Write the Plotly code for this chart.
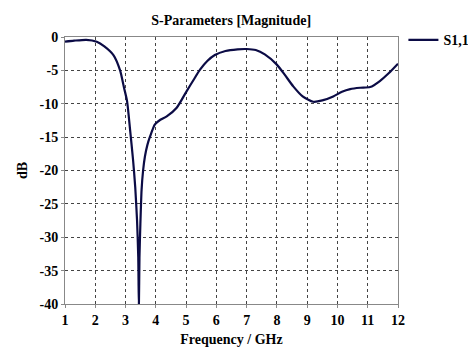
import plotly.graph_objects as go

freq = [1.0, 1.3, 1.7, 2.05, 2.3, 2.6, 2.82, 2.95, 3.05, 3.15, 3.25, 3.32, 3.38, 3.42, 3.44, 3.46, 3.49,
        3.53, 3.58, 3.64, 3.72, 3.81, 3.97, 4.15, 4.36, 4.69, 5.02, 5.25, 5.46, 5.7, 5.95, 6.3, 6.7,
        7.0, 7.3, 7.6, 7.99, 8.25, 8.54, 8.85, 9.2, 9.5, 9.86, 10.15, 10.42, 10.75, 11.08, 11.4, 11.7, 12.0]
s11 = [-0.7, -0.55, -0.42, -0.7, -1.4, -2.7, -5.0, -7.6, -9.6, -13.9, -18.5, -22.5, -27.5, -33.0, -40.5,
       -33.0, -28.0, -22.9, -20.0, -17.9, -16.2, -14.9, -13.1, -12.4, -11.9, -10.6, -8.1, -6.4, -4.9,
       -3.6, -2.7, -2.1, -1.85, -1.8, -1.95, -2.6, -4.1, -5.6, -7.4, -8.9, -9.7, -9.5, -8.9, -8.2, -7.8,
       -7.6, -7.5, -6.6, -5.4, -4.0]
x_ticks = [1, 2, 3, 4, 5, 6, 7, 8, 9, 10, 11, 12]
y_ticks = [0, -5, -10, -15, -20, -25, -30, -35, -40]

font_family = "Times New Roman, Liberation Serif, DejaVu Serif, serif"

fig = go.Figure()
fig.add_trace(go.Scatter(x=freq, y=s11, mode="lines", name="<b>S1,1</b>",
                         line=dict(color="#0b0b45", width=2.2, shape="spline", smoothing=0.6)))

axis_common = dict(showgrid=True, gridcolor="#444444", griddash="dot", gridwidth=1,
                   showline=True, linecolor="#888888", linewidth=1, mirror=True,
                   ticks="outside", ticklen=3, tickcolor="#888888", zeroline=False,
                   automargin=False,
                   tickfont=dict(family=font_family, size=14, color="black"))

fig.update_layout(
    width=468, height=347,
    margin=dict(l=65, r=70, t=37, b=43),
    paper_bgcolor="white", plot_bgcolor="white",
    title=dict(text="<b>S-Parameters [Magnitude]</b>", x=0.494, xanchor="center", y=0.943, yanchor="middle",
               font=dict(family=font_family, size=14, color="black")),
    xaxis=dict(range=[1, 12], tickvals=x_ticks, ticktext=[f"<b>{v}</b>" for v in x_ticks],
               title=dict(text="<b>Frequency / GHz</b>", standoff=8,
                          font=dict(family=font_family, size=14, color="black")), **axis_common),
    yaxis=dict(range=[-40, 0], tickvals=y_ticks, ticktext=[f"<b>{v}</b>" for v in y_ticks],
               title=dict(text="<b>dB</b>", standoff=8,
                          font=dict(family=font_family, size=14, color="black")), **axis_common),
    showlegend=True,
    legend=dict(xref="container", yref="container", x=0.862, y=0.93, xanchor="left", yanchor="top",
                bgcolor="rgba(0,0,0,0)",
                font=dict(family=font_family, size=14, color="black")),
)

fig.write_html("out.html")
